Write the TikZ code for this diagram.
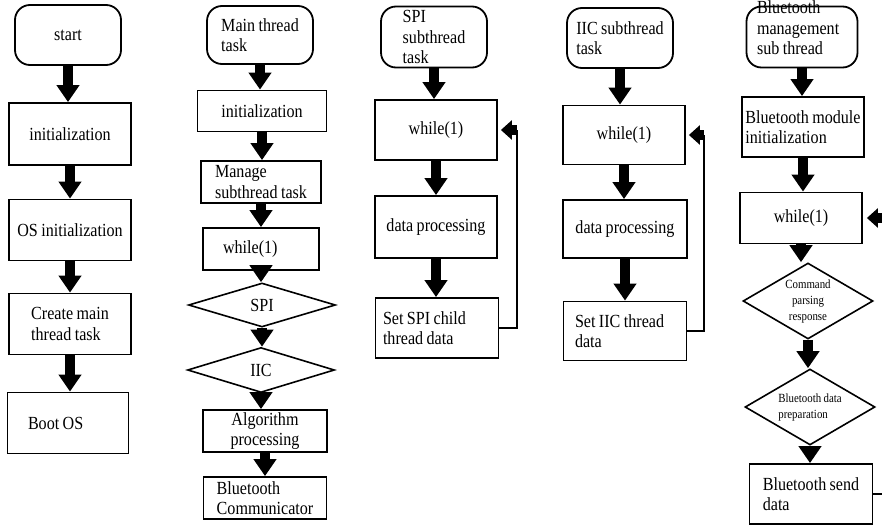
\documentclass[tikz,border=0pt]{standalone}
\usepackage{fontspec}
\setmainfont{Liberation Serif}[FakeStretch=0.87, WordSpace=0.85]
\usepackage{tikz}
\usetikzlibrary{arrows.meta, shapes.geometric, positioning, calc}

\tikzset{
  task/.style={draw, line width=1.8pt, rounded corners=15pt, inner sep=0pt, align=left},
  box/.style={draw, line width=1.8pt, inner sep=0pt},
  test/.style={draw, diamond, line width=1.6pt, inner sep=0pt, aspect=#1},
  flow/.style={line width=10pt, -{Triangle[width=22pt,length=17pt]}},
  back/.style={line width=1.6pt},
  backhead/.style={line width=10pt, -{Triangle[width=19pt,length=11pt]}},
  smalltext/.style={font=\fontsize{12.5}{16}\selectfont}
}

\begin{document}
\begin{tikzpicture}[x=1pt, y=-1pt, font=\fontsize{18.5}{20.5}\selectfont]
\fill[white] (0,0) rectangle (882,527);
\useasboundingbox (0,0) rectangle (882,527);

% start-up
\node[task, align=center, minimum width=106pt, minimum height=60pt] (start) at (68,35) {start};
\node[box, minimum width=122pt, minimum height=62pt] (init) at (70,134) {initialization};
\node[box, minimum width=122pt, minimum height=61pt] (osinit) at (70,230) {OS initialization};
\node[box, align=left, minimum width=122pt, minimum height=61pt] (mkmain) at (70,324) {Create main\\thread task};
\node[box, align=flush left, text width=80pt, minimum width=121pt, minimum height=61pt] (bootos) at (68,423) {Boot OS};

\draw[flow] (start.south) -- (start.south |- init.north);
\draw[flow] (init.south) -- (init.south |- osinit.north);
\draw[flow] (osinit.south) -- (osinit.south |- mkmain.north);
\draw[flow] (mkmain.south) -- (mkmain.south |- bootos.north);

% main thread
\node[task, minimum width=106pt, minimum height=58pt] (maintask) at (260,35) {Main thread\\task};
\node[box, minimum width=129pt, minimum height=41pt] (maininit) at (262,111) {initialization};
\node[box, align=left, minimum width=120pt, minimum height=42pt] (manage) at (261,182) {Manage\\subthread task};
\node[box, align=flush left, text width=76pt, minimum width=116pt, minimum height=42pt] (mainwhile) at (261,249) {while(1)};
\node[test=3.3, minimum width=147pt, minimum height=44pt] (spi) at (262,305) {SPI};
\node[test=3.3, minimum width=147pt, minimum height=45pt] (iic) at (261,370) {IIC};
\node[box, align=center, minimum width=124pt, minimum height=42pt] (algo) at (265,431) {Algorithm\\processing};
\node[box, align=left, minimum width=123pt, minimum height=42pt] (btcomm) at (265,498) {Bluetooth\\Communicator};

\draw[flow] (maintask.south) -- (maintask.south |- maininit.north);
\draw[flow] (maininit.south) -- (maininit.south |- manage.north);
\draw[flow] (manage.south) -- (manage.south |- mainwhile.north);
\draw[flow] (mainwhile.south) -- (mainwhile.south |- spi.north);
\draw[flow] (spi.south) -- (spi.south |- iic.north);
\draw[flow] (iic.south) -- (iic.south |- algo.north);
\draw[flow] (algo.south) -- (algo.south |- btcomm.north);

% SPI subthread
\node[task, minimum width=106pt, minimum height=61pt] (spitask) at (434,37) {SPI\\subthread\\task};
\node[box, minimum width=122pt, minimum height=60pt] (spiwhile) at (436,130) {while(1)};
\node[box, minimum width=122pt, minimum height=62pt] (spidata) at (436,227) {data processing};
\node[box, align=flush left, text width=108pt, minimum width=123pt, minimum height=60pt] (spiset) at (437,328) {Set SPI child\\thread data};
\coordinate (spiturn) at (517,130);

\draw[flow] (spitask.south) -- (spitask.south |- spiwhile.north);
\draw[flow] (spiwhile.south) -- (spiwhile.south |- spidata.north);
\draw[flow] (spidata.south) -- (spidata.south |- spiset.north);
\draw[back] (spiset.east) -| (spiturn);
\draw[backhead] (spiturn) -- ([xshift=3pt]spiwhile.east);

% IIC subthread
\node[task, minimum width=106pt, minimum height=60pt] (iictask) at (620,38) {IIC subthread\\task};
\node[box, minimum width=122pt, minimum height=59pt] (iicwhile) at (624,135) {while(1)};
\node[box, minimum width=124pt, minimum height=58pt] (iicdata) at (625,229) {data processing};
\node[box, align=flush left, text width=100pt, minimum width=123pt, minimum height=59pt] (iicset) at (625,331) {Set IIC thread\\data};
\coordinate (iicturn) at (704,135);

\draw[flow] (iictask.south) -- (iictask.south |- iicwhile.north);
\draw[flow] (iicwhile.south) -- (iicwhile.south |- iicdata.north);
\draw[flow] (iicdata.south) -- (iicdata.south |- iicset.north);
\draw[back] (iicset.east) -| (iicturn);
\draw[backhead] (iicturn) -- ([xshift=3pt]iicwhile.east);

% Bluetooth subthread
\node[task, align=flush left, text width=90pt, text height=6pt, text depth=52pt, minimum width=111pt, minimum height=61pt] (bttask) at (802,37) {Bluetooth\\management\\sub thread};
\node[box, align=left, minimum width=122pt, minimum height=60pt] (btinit) at (803,127) {Bluetooth module\\initialization};
\node[box, minimum width=122pt, minimum height=51pt] (btwhile) at (801,218) {while(1)};
\node[test=1.7, smalltext, align=center, minimum width=130pt, minimum height=76pt] (btcmd) at (808,301) {Command\\parsing\\response};
\node[test=1.7, smalltext, align=left, minimum width=130pt, minimum height=76pt] (btprep) at (810,407) {Bluetooth data\\preparation};
\node[box, align=left, minimum width=123pt, minimum height=60pt] (btsend) at (811,494) {Bluetooth send\\data};
\coordinate (btturn) at (895,218);

\draw[flow] (bttask.south) -- (bttask.south |- btinit.north);
\draw[flow] (btinit.south) -- (btinit.south |- btwhile.north);
\draw[flow] (btwhile.south) -- (btwhile.south |- btcmd.north);
\draw[flow] (btcmd.south) -- (btcmd.south |- btprep.north);
\draw[flow] (btprep.south) -- (btprep.south |- btsend.north);
\draw[back] (btsend.east) -| (btturn);
\draw[backhead] (btturn) -- ([xshift=4pt]btwhile.east);
\end{tikzpicture}
\end{document}
